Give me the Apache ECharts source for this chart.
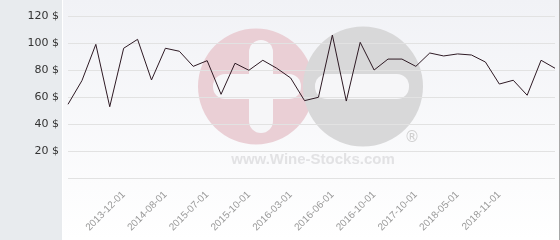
<!DOCTYPE html>
<html><head><meta charset="utf-8">
<script src="https://cdn.jsdelivr.net/npm/echarts@6/dist/echarts.min.js"></script>
<style>html,body{margin:0;padding:0;background:#fff}#c{width:560px;height:240px}</style>
</head><body><div id="c"></div>
<script>
// Values (USD)
var prices = [54.6, 72.1, 99.0, 52.8, 96.1, 102.7, 72.6, 96.1, 93.9, 82.7, 86.9, 62.0,
  85.0, 79.8, 87.2, 81.3, 74.1, 57.3, 59.8, 105.9, 57.0, 100.5, 80.0, 88.1,
  88.1, 82.7, 92.6, 90.4, 91.9, 91.1, 85.9, 69.6, 72.4, 61.3, 87.2, 81.3];
// Visible date labels, shown every 3rd point starting at point 4
var tickLabels = ['2013-12-01', '2014-08-01', '2015-07-01', '2015-10-01', '2016-03-01',
  '2016-06-01', '2016-10-01', '2017-10-01', '2018-05-01', '2018-11-01'];
var labelStart = 4, labelStep = 3;
var yTicks = [0, 20, 40, 60, 80, 100, 120];

var categories = prices.map(function (v, i) {
  var k = (i - labelStart) / labelStep;
  return (k >= 0 && k === Math.floor(k) && k < tickLabels.length) ? tickLabels[k] : '';
});

var chart = echarts.init(document.getElementById('c'), null, {renderer: 'canvas'});
chart.setOption({
  animation: false,
  graphic: [
    {type: 'rect', z: -100, shape: {x: 0, y: 0, width: 62, height: 240}, style: {fill: '#e8ebee'}},
    {type: 'rect', z: -100, shape: {x: 63, y: 0, width: 496, height: 240},
      style: {fill: new echarts.graphic.LinearGradient(0, 0, 0, 1, [
        {offset: 0, color: '#f1f2f6'}, {offset: 1, color: '#ffffff'}])}},
    {type: 'rect', z: -100, shape: {x: 559, y: 0, width: 1, height: 240}, style: {fill: '#a8a8a8'}},
    {type: 'circle', z: -90, shape: {cx: 256, cy: 86.5, r: 58}, style: {fill: '#eacfd5'}},
    {type: 'circle', z: -89, shape: {cx: 363, cy: 86.5, r: 60}, style: {fill: '#d8d8d9'}},
    {type: 'rect', z: -88, shape: {x: 213, y: 74, width: 88, height: 25, r: 12}, style: {fill: '#f6f6f8'}},
    {type: 'rect', z: -88, shape: {x: 249, y: 40, width: 24, height: 93, r: 12}, style: {fill: '#f6f6f8'}},
    {type: 'rect', z: -88, shape: {x: 315, y: 74, width: 94, height: 25, r: 12}, style: {fill: '#f6f6f8'}},
    {type: 'text', z: -88, style: {x: 412, y: 138, text: '®', fill: '#cfcfcf', font: '15px "DejaVu Sans"', align: 'center', verticalAlign: 'middle'}},
    {type: 'text', z: -88, style: {x: 313, y: 160, text: 'www.Wine-Stocks.com', fill: '#e2e2e4', font: 'bold 15px "Liberation Sans"', align: 'center', verticalAlign: 'middle'}}
  ],
  grid: {left: 68, right: 5, top: 16, bottom: 62, containLabel: false},
  xAxis: {
    type: 'category', data: categories, boundaryGap: false,
    axisLine: {show: false}, axisTick: {show: false}, splitLine: {show: false},
    axisLabel: {
      interval: 0, rotate: 45, margin: 15, color: '#999999', fontSize: 10,
      fontFamily: '"Liberation Sans"'
    }
  },
  yAxis: {
    type: 'value', min: yTicks[0], max: yTicks[yTicks.length - 1], interval: 20,
    axisLine: {show: false}, axisTick: {show: false},
    splitLine: {lineStyle: {color: '#e2e2e2', width: 1}},
    axisLabel: {
      margin: 9, color: '#333', fontSize: 11, fontFamily: '"DejaVu Sans"',
      formatter: function (v) { return v === 0 ? '' : v + ' $'; }
    }
  },
  series: [{
    type: 'line', data: prices, symbol: 'none', z: 5,
    lineStyle: {color: '#2e1a24', width: 1}
  }]
});
</script></body></html>
